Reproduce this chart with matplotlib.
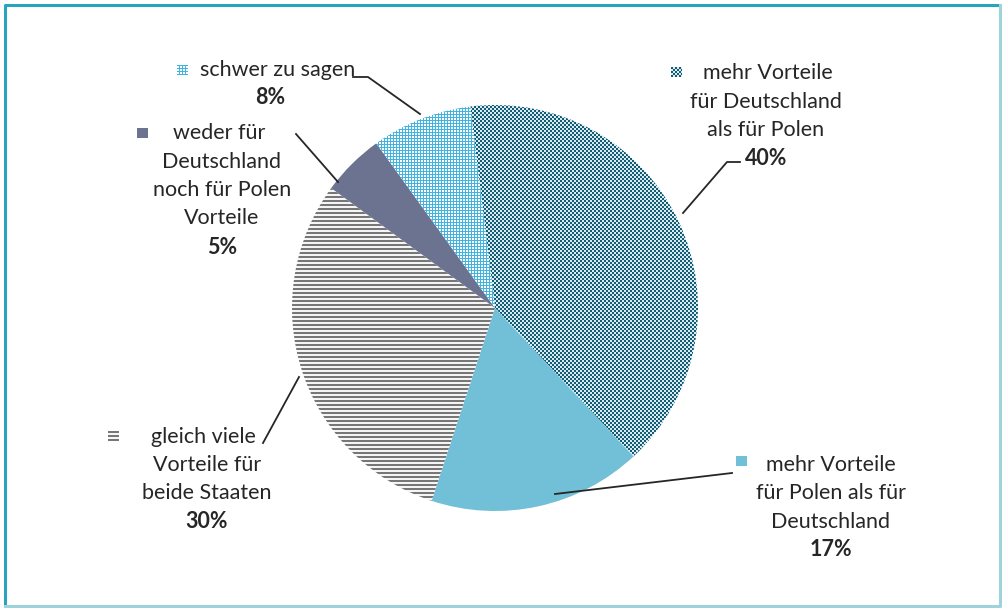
import numpy as np
import matplotlib.pyplot as plt
from matplotlib.colors import to_rgb
from matplotlib.patches import Rectangle

# data
labels = ['mehr Vorteile\nfür Deutschland\nals für Polen',
          'mehr Vorteile\nfür Polen als für\nDeutschland',
          'gleich viele\nVorteile für\nbeide Staaten',
          'weder für\nDeutschland\nnoch für Polen\nVorteile',
          'schwer zu sagen']
values = [40, 17, 30, 5, 8]
pct_labels = ['40%', '17%', '30%', '5%', '8%']

W, H = 1002, 608
plt.rcParams['font.family'] = ['Lato', 'DejaVu Sans']

fig = plt.figure(figsize=(W / 100, H / 100), dpi=100)
ax = fig.add_axes([0, 0, 1, 1])

# texture arrays in pixel space (row 0 = top of the figure)
yy, xx = np.mgrid[0:H, 0:W]


def texture(mask, c_on, c_off):
    a = np.empty((H, W, 3))
    a[:] = to_rgb(c_off)
    a[mask] = to_rgb(c_on)
    return a


checker = texture(((xx // 2 + yy // 2) % 2) == 0, '#135c74', '#d9ecf2')
stripes = texture((yy % 4) < 2, '#777777', '#f5f5f5')
grid = texture((xx % 3 == 0) | (yy % 3 == 0), '#40b4e0', '#ffffff')
solid_blue = texture(np.zeros((H, W), bool), '#000000', '#72bfd8')
solid_slate = texture(np.zeros((H, W), bool), '#000000', '#6b7390')

textures = [checker, solid_blue, stripes, solid_slate, grid]

# pie in pixel coordinates (y up)
cx, cy, r = 495, H - 308, 203
wedges, _ = ax.pie(values, startangle=97, counterclock=False, center=(cx, cy),
                   radius=r, colors=['none'] * 5, wedgeprops=dict(linewidth=0))
ax.set_xlim(0, W)
ax.set_ylim(0, H)
ax.set_aspect('auto')
ax.set_axis_off()


def paint(tex, clip):
    im = ax.imshow(tex, extent=(0, W, 0, H), origin='upper',
                   interpolation='nearest', zorder=1)
    im.set_clip_path(clip)


for w, t in zip(wedges, textures):
    paint(t, w)

# label layout: (first line x, other lines x, first line y, marker xy, step, leader)
layout = [
    (768, 766, 73, (677, 72), 28.5, [(740, 162), (727, 162), (683, 213)]),
    (831, 831, 465, (742, 461), 28.3, [(732, 473), (555, 494)]),
    (203, 207, 437, (114, 436), 28.0, [(263, 443), (299, 377)]),
    (219, 222, 133, (143, 133), 28.5, [(296, 134), (338, 182)]),
    (278, 270, 70, (183, 70), 27.0, [(353, 77), (368, 77), (420, 114)]),
]

txt = '#262626'
for lab, pct, tex, (x0, xc, y0, mk, step, lead) in zip(labels, pct_labels, textures, layout):
    lines = lab.split('\n')
    for i, line in enumerate(lines):
        ax.text(x0 if i == 0 else xc, H - (y0 + i * step), line, ha='center',
                va='center', fontsize=15.5, color=txt)
    ax.text(xc, H - (y0 + len(lines) * step), pct, ha='center', va='center',
            fontsize=15.5, fontweight='bold', color=txt)
    sq = Rectangle((mk[0] - 5.5, H - mk[1] - 5.5), 11, 11, facecolor='none', linewidth=0)
    ax.add_patch(sq)
    paint(tex, sq)
    px, py = zip(*lead)
    ax.plot(px, [H - v for v in py], color='#262626', lw=1.3, zorder=3)

# frame
ax.plot([5, 5, 1000], [H - 606, H - 5, H - 5], color='#2aa3bd', lw=2.2, zorder=4)
ax.plot([1000, 1000, 5], [H - 5, H - 606, H - 606], color='#9fd3dc', lw=2.2, zorder=4)

fig.savefig('out.png', dpi=100)
